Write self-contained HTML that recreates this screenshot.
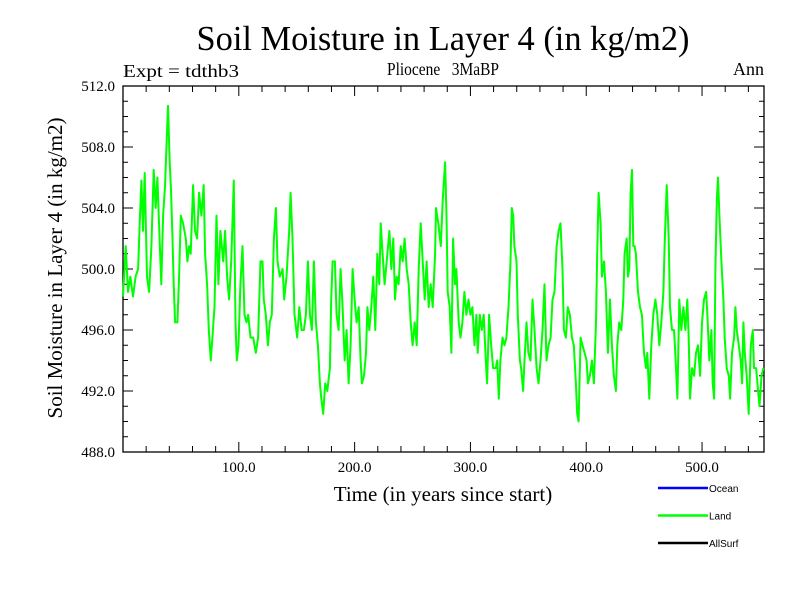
<!DOCTYPE html>
<html><head><meta charset="utf-8"><style>
body{margin:0;background:#fff;}
svg{display:block;}
</style></head><body>
<svg id="chart" width="800" height="600" xmlns="http://www.w3.org/2000/svg">
<rect width="800" height="600" fill="#fff"/>
<text x="443" y="50" text-anchor="middle" font-family="Liberation Serif, serif" font-size="35" textLength="493" lengthAdjust="spacingAndGlyphs">Soil Moisture in Layer 4 (in kg/m2)</text>
<text x="123" y="77" font-family="Liberation Serif, serif" font-size="18" textLength="116" lengthAdjust="spacingAndGlyphs">Expt = tdthb3</text>
<text x="443" y="75" text-anchor="middle" font-family="Liberation Serif, serif" font-size="18" textLength="112" lengthAdjust="spacingAndGlyphs" xml:space="preserve">Pliocene   3MaBP</text>
<text x="764" y="75" text-anchor="end" font-family="Liberation Serif, serif" font-size="18">Ann</text>
<g id="axes"></g>
<g id="plot"></g>
<text x="443" y="501" text-anchor="middle" font-family="Liberation Serif, serif" font-size="21">Time (in years since start)</text>
<text transform="translate(62,268) rotate(-90)" text-anchor="middle" font-family="Liberation Serif, serif" font-size="21">Soil Moisture in Layer 4 (in kg/m2)</text>
<g id="legend"></g>
</svg>
<script>
const years=[0,2.3,4.3,6.3,8.6,10.9,13,14.4,15.9,17.3,18.7,20.7,22.5,24.5,26.5,28.2,29.7,31.1,33.1,34.6,36.3,38,38.9,40.3,41.5,42.7,43.8,45,47,48.4,49.9,51.9,54.2,55.6,57.1,58.5,60.5,62.2,64,65.7,67.7,69.7,70.9,72.6,74.1,75.8,77.2,79,80.7,82.4,84.1,86.5,88.2,89.9,91.6,93.4,95.7,97.1,98.3,99.7,101.4,103.2,104.9,106.6,108.1,110.1,112.4,114.7,116.7,118.7,120.5,121.6,123.3,125.1,126.8,128.5,130.3,132,133.4,135.4,137.8,139.2,141.2,143.5,144.7,146.4,148.1,150.4,152.2,154.2,156.2,157.9,159.7,161.4,163.1,164.8,166.6,168.3,170,171.2,172.9,174.6,176.4,178.7,179.8,181,183,184.4,186.2,187.9,189.6,191.4,193.1,194.8,196.5,198.3,200,201.7,203.5,205.2,206.3,208.1,209.8,211,212.7,214.4,216.1,217.9,219.6,221.3,222.5,224.2,225.9,227.7,230,231.7,233.4,234.9,236.3,238,239.8,241.5,243.2,245,246.7,248.4,250.1,251.9,253.6,255.3,257.1,258.8,260.5,262.2,264,265.7,267.4,269.5,270.3,272.3,274.4,276.1,278.1,
279.3,280.4,282.1,283.6,285,286.7,287.9,289.9,291.4,293.1,294.8,296.5,298.3,300,301.7,303.5,305.2,306.3,308.1,309.8,311.5,313.3,314.4,316.1,317.9,319.6,321.9,323.1,324.5,325.9,327.7,329.4,331.1,332.9,334.6,335.7,336.9,338,339.8,340.9,342.7,343.8,345.5,346.7,348.4,350.1,351.9,353.6,355.3,357.1,358.8,360.5,362.2,364,365.7,367.4,369.2,370.9,372.6,374.4,376.1,377.8,379.5,380.7,382.4,384.1,385.9,387.6,389.3,391.1,392.2,393.4,395.1,396.8,398.6,400.3,401.4,403.2,404.9,406.6,408.4,409.5,410.7,412.4,413.5,415.3,417,418.7,420.5,422.2,423.9,425.6,426.8,428.5,430.3,432,433.1,434.9,436,437.2,438.3,439.5,440.6,441.8,442.9,444.7,446.4,448.1,449.9,451.6,452.7,454.5,456.2,457.9,459.7,461.4,463.1,464.8,466.6,467.7,469.5,471.2,472.3,474.1,475.8,476.9,478.7,480.4,482.1,483.9,485.6,487.3,488.5,489.6,491.4,493.1,494.8,496.5,498.3,500,501.7,503.5,504.6,506.3,508.1,509.2,510.4,511.5,512.7,513.8,515,516.7,518.4,519.6,521.3,523.1,524.2,525.9,527.7,528.8,530,531.7,533.4,534.6,535.7,536.9,538.6,540.3,542.1,543.8,544.9,546.7,548.4,549.6,551.3,553];
const landValues=[498.2,501.5,498.5,499.5,498.2,499.5,500,503,505.8,502.5,506.3,499.5,498.5,501.5,506.5,504,506,503,499,503.5,505.4,509,510.7,507,505,502,499,496.5,496.5,499.5,503.5,503,502,500.5,501.5,501,505.5,502.5,502,505,503.5,505.5,501,499,496,494,495.5,497.5,503.5,499,502.5,500.5,502.5,499.5,498,500.5,505.8,496.5,494,495,499,501.5,497,496.5,497,495.5,495.5,494.5,495.5,500.5,500.5,498,497,495,496.5,497,502,504,500.5,499.5,500,498,499.5,502.5,505,502,497,495.5,497.5,496,496,497,500.5,497,496,500.5,496.5,495,492.5,491.5,490.5,492.5,492,493.5,498,500.5,500.5,497,496,500,497.5,494,496,492.5,495,500,498,496.5,497.5,494,492.5,493,494.5,497.5,496,497.5,499.5,496,501,499,503,501,499,500.5,502.5,500,502,498,499.5,499,501.5,500.5,502,500,499,496.5,495,496.5,495,500,503,500.5,498,500.5,497.5,499,497.5,501,504,503,501.5,504.5,507,
503.5,498.5,497.5,494.5,502,499,500,496.5,495.5,496.5,498.5,497,498,497,497.5,495,497,494.5,497,496,497,494,492.5,497,495,493.5,493.5,494,491.5,494,495.5,495,495.5,497.5,500.5,504,503.5,501.5,500.5,497,494,493.5,492,494,496.5,494.5,494,498,496,493.5,492.5,494,496,499,494,495,495.5,498,498.5,501.5,502.5,503,500,496,495.5,497.5,497,495.5,495,492.5,490.5,490,495.5,495,494.5,494,492.5,493,494,492.5,496.5,501,505,503,499.5,500.5,498.5,494.5,498,495,493,492,495,496.5,496,498,501,502,499.5,500,505,506.5,501.5,501.5,501,498.5,497.5,497,494.5,493.5,494.5,491.5,495,497,498,497,495,496.5,498.5,501.5,505.5,502,497.5,496,496,494.5,491.5,498,496,497.5,496,498,495.5,491.5,493.5,493,494.5,495,493,496.5,498,498.5,497,494,496,492.5,491.5,500,504.5,506,503.5,500.5,498,495.5,493.5,493,491.5,494.5,495.5,497.5,496,495,494,492.5,496.5,494.5,493,490.5,495,496,493.5,493.5,492,491,493,493.5];
const yTicks=[488,492,496,500,504,508,512];
const yTickLabels=["488.0","492.0","496.0","500.0","504.0","508.0","512.0"];
const xTicks=[100,200,300,400,500];
const xTickLabels=["100.0","200.0","300.0","400.0","500.0"];
const legendNames=["Ocean","Land","AllSurf"];
const legendColors=["#0000ff","#00ff00","#000000"];

const X0=123,X1=764,Y0=86,Y1=452,XMIN=0,XMAX=553.5,YMIN=488,YMAX=512;
function xs(v){return X0+(v-XMIN)/(XMAX-XMIN)*(X1-X0);}
function ys(v){return Y1-(v-YMIN)/(YMAX-YMIN)*(Y1-Y0);}
const NS="http://www.w3.org/2000/svg";
function mk(tag,attrs,parent){const e=document.createElementNS(NS,tag);for(const k in attrs)e.setAttribute(k,attrs[k]);parent.appendChild(e);return e;}
const axes=document.getElementById('axes');
const frame=mk('rect',{x:X0,y:Y0,width:X1-X0,height:Y1-Y0,fill:'none',stroke:'#000','stroke-width':1.3},axes);


// y minor ticks
for(let v=YMIN;v<=YMAX;v+=1){
  const major=(v-YMIN)%4===0;const L=major?10:5;
  const t1=mk('line',{x1:X0,x2:X0+L,y1:ys(v),y2:ys(v),stroke:'#000','stroke-width':1},axes);
  
  
  const t2=mk('line',{x1:X1,x2:X1-L,y1:ys(v),y2:ys(v),stroke:'#000','stroke-width':1},axes);
  
  
}
yTicks.forEach((v,i)=>{
  const t=mk('text',{x:X0-8,y:ys(v)+5,'text-anchor':'end','font-family':'Liberation Serif, serif','font-size':15},axes);
  t.textContent=yTickLabels[i];
  
  
});
for(let v=20;v<XMAX;v+=20){
  const major=v%100===0;const L=major?10:6;
  const t1=mk('line',{x1:xs(v),x2:xs(v),y1:Y1,y2:Y1-L,stroke:'#000','stroke-width':1},axes);
  
  
  const t2=mk('line',{x1:xs(v),x2:xs(v),y1:Y0,y2:Y0+L,stroke:'#000','stroke-width':1},axes);
  
  
}
xTicks.forEach((v,i)=>{
  const t=mk('text',{x:xs(v),y:Y1+20,'text-anchor':'middle','font-family':'Liberation Serif, serif','font-size':15},axes);
  t.textContent=xTickLabels[i];
  
  
});
const plot=document.getElementById('plot');
const pts=years.map((y,i)=>xs(y).toFixed(1)+','+ys(landValues[i]).toFixed(1)).join(' ');
const line=mk('polyline',{points:pts,fill:'none',stroke:'#00ff00','stroke-width':2,'stroke-linejoin':'round'},plot);


const leg=document.getElementById('legend');
legendNames.forEach((n,i)=>{
  const y=488+i*27.5;
  const l=mk('line',{x1:658,x2:708,y1:y,y2:y,stroke:legendColors[i],'stroke-width':2.5},leg);
  
  
  const t=mk('text',{x:709,y:y+4,'font-family':'Liberation Sans, sans-serif','font-size':10},leg);
  t.textContent=n;
  
  
});
</script>
</body></html>
